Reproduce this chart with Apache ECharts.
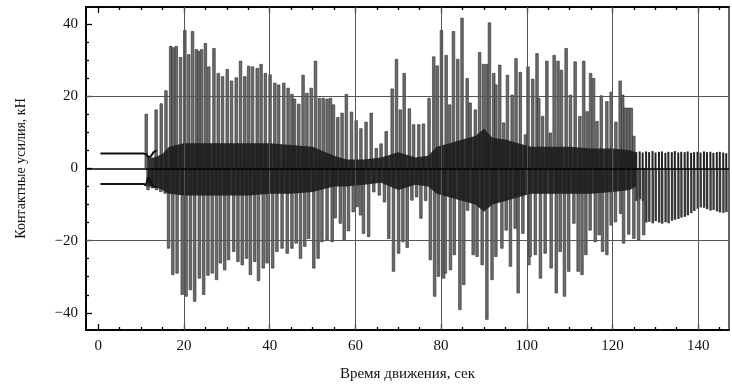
<!DOCTYPE html>
<html>
<head>
<meta charset="utf-8">
<script src="https://cdn.jsdelivr.net/npm/echarts@6/dist/echarts.min.js"></script>
<style>
  html, body { margin: 0; padding: 0; background: #fff; }
  #chart { width: 732px; height: 387px; }
</style>
</head>
<body>
<div id="chart"></div>
<script>
// значения пиков (время, сек / усилие, кН)
var posT = [11.1,13.4,14.6,15.7,16.8,17.4,18.1,19.1,20.1,21.0,21.9,22.8,23.4,24.0,24.9,25.7,26.9,27.9,28.9,30.0,
            31.0,32.1,33.1,34.1,35.0,35.9,37.0,37.9,38.9,40.0,41.1,42.0,43.2,44.2,45.1,45.7,46.7,47.7,48.6,49.6,
            50.6,51.5,52.4,53.3,54.1,54.8,55.8,56.8,57.8,59.0,60.1,61.2,62.4,63.6,64.8,65.9,67.1,68.5,69.5,70.4,
            71.3,72.5,73.5,74.7,75.8,77.1,78.2,79.0,80.0,81.1,81.9,82.8,83.8,84.8,86.0,86.7,87.9,88.9,89.8,90.6,
            91.2,92.2,92.7,93.6,94.5,95.4,96.5,97.4,98.4,99.6,100.2,101.3,102.3,102.7,103.6,104.6,105.4,106.3,107.2,108.0,
            109.1,110.1,111.2,112.3,113.2,114.0,114.8,115.5,116.3,117.3,118.6,119.6,120.7,121.7,122.3,122.9,123.6,124.3,124.9];
var posV = [15.1,16.3,18.0,21.6,33.9,33.5,33.9,30.8,38.3,31.6,38.0,33.0,32.5,33.0,34.7,28.2,33.3,26.4,25.5,27.5,
            24.3,25.2,29.8,25.5,28.4,28.2,27.8,28.9,26.4,26.0,23.7,23.2,23.7,22.3,20.6,19.3,17.9,25.9,20.9,22.3,
            29.8,19.5,19.5,19.3,19.5,17.7,14.2,15.4,20.6,15.7,13.3,11.1,12.9,15.4,5.6,6.9,10.3,22.1,30.3,16.3,
            26.4,16.6,12.2,12.2,12.4,19.5,31.0,28.5,38.3,31.4,17.7,38.0,30.3,41.7,25.0,18.2,16.3,32.2,28.9,28.9,
            40.4,26.4,23.2,28.7,12.7,25.9,20.4,30.5,26.7,9.4,28.2,24.8,31.9,19.5,14.5,29.8,9.9,31.4,29.8,27.3,
            33.3,20.4,29.6,14.5,29.8,15.8,26.4,25.0,13.1,20.2,18.6,21.2,12.9,24.3,20.4,16.8,16.8,16.8,9.0];

var negT = [11.5,12.5,13.5,14.5,15.5,16.3,17.3,18.3,19.5,20.4,21.4,22.4,23.5,24.5,25.5,26.5,27.5,28.4,29.4,30.3,
            31.5,32.5,33.5,34.5,35.4,36.4,37.3,38.4,39.3,40.6,41.6,42.8,44.0,45.1,46.1,47.1,48.1,49.0,50.2,51.2,
            52.1,53.3,54.5,55.2,56.4,57.3,58.3,59.4,60.3,61.1,61.8,63.0,64.2,65.5,66.7,67.7,68.8,70.0,71.0,72.0,
            73.1,74.2,75.2,76.3,77.4,78.4,79.3,80.5,80.9,82.1,83.0,84.3,85.2,86.1,87.4,88.3,89.5,90.6,91.8,92.7,
            94.1,95.1,96.1,97.2,97.9,99.0,100.4,100.7,101.9,103.1,104.2,105.6,106.8,107.7,108.7,109.7,110.9,111.9,112.8,113.7,
            114.7,115.9,116.8,117.6,118.6,119.6,120.6,121.8,122.5,123.7,124.9,126.0,127.2];
var negV = [-6.0,-5.5,-6.0,-6.5,-7.0,-22.2,-29.5,-29.1,-35.0,-35.5,-33.7,-36.9,-30.5,-35.0,-29.7,-29.1,-30.9,-26.3,-28.2,-25.4,
            -23.1,-25.9,-26.8,-25.0,-29.5,-25.9,-31.2,-27.7,-26.3,-27.7,-23.1,-22.2,-23.6,-22.2,-20.8,-25.0,-21.7,-19.5,-27.7,-25.0,
            -20.4,-19.9,-20.4,-13.8,-15.3,-19.9,-17.4,-12.1,-10.7,-13.0,-18.1,-19.0,-6.6,-7.5,-9.4,-19.5,-28.6,-23.6,-20.4,-22.0,
            -8.9,-8.0,-13.9,-9.0,-25.4,-35.5,-30.0,-30.5,-29.1,-28.2,-24.0,-39.2,-32.3,-11.7,-24.0,-24.5,-26.8,-41.9,-30.9,-24.5,
            -22.2,-17.2,-27.2,-16.7,-34.6,-18.1,-26.8,-24.5,-24.0,-30.5,-23.6,-27.7,-34.6,-23.1,-35.5,-28.6,-15.3,-28.6,-29.5,-24.0,
            -17.2,-20.4,-18.5,-23.1,-24.0,-15.8,-14.9,-12.6,-20.8,-18.3,-19.5,-19.9,-18.5];

// хвост после 125 с
var tailT  = [125.6,126.4,127.1,127.9,128.6,129.4,130.1,130.9,131.6,132.4,133.1,133.9,134.6,135.4,136.1,136.9,137.6,138.4,
              139.1,139.9,140.6,141.4,142.1,142.9,143.6,144.4,145.1,145.9,146.6];
var tailHi = [4.5,4.7,4.4,4.7,4.5,4.8,4.4,4.6,4.7,4.3,4.6,4.5,4.8,4.4,4.6,4.5,4.7,4.3,
              4.5,4.6,4.4,4.7,4.5,4.6,4.3,4.5,4.6,4.4,4.2];
var tailLo = [-9.0,-8.5,-9.0,-15.0,-14.8,-15.2,-14.6,-15.0,-15.3,-14.9,-15.2,-14.5,-14.2,-14.0,-13.6,-13.4,-13.0,-12.4,
              -11.8,-11.2,-10.8,-10.9,-11.3,-11.7,-11.5,-11.9,-12.2,-12.3,-12.1];

// тёмная полоса вокруг нуля
var bandT  = [11.5,13,15,16.5,20,25,30,35,40,45,50,55,58,62,66,70,74,77,79,82,85,88,90,92,95,98,101,105,110,115,120,124,125.5];
var bandHi = [3,3,4,6,7,7,7,7,7,6.5,6,3.5,2.5,2.5,3,4.5,3,3.5,6,7,8,9,11,8.5,8,7,6,6,6,5.5,5.5,5,4.5];
var bandLo = [-5,-5,-6,-7,-7.5,-7.5,-7.5,-7.5,-7,-7,-6.5,-5,-5,-4.5,-4,-6,-4.5,-5,-7,-8,-9,-10,-12,-10,-9,-8,-7,-7,-7,-7,-6.5,-6,-5];

// начальные ровные участки
var upT = [0.5,10.6,11.2,11.7,12.3,12.9,13.6];
var upV = [4.1,4.1,3.9,3.1,3.4,4.5,5.0];
var loT = [0.5,10.6,11.1,11.6,12.2,12.8,13.6];
var loV = [-4.3,-4.3,-4.7,-2.6,-3.5,-5.0,-5.2];

var xLabels = [0,20,40,60,80,100,120,140];
var xMinor = [5,10,15,25,30,35,45,50,55,65,70,75,85,90,95,105,110,115,125,130,135,145];
var yLabels = [-40,-20,0,20,40];
var yMinor = [-35,-30,-25,-15,-10,-5,5,10,15,25,30,35];
var xGrid = [20,40,60,80,100,120,140];
var yGrid = [-20,20];

function pairs(t, v) {
    var out = [];
    for (var i = 0; i < t.length; i++) out.push([t[i], v[i]]);
    return out;
}

var FONT = '"Liberation Serif", "DejaVu Serif", serif';
var XMIN = -2.87, XMAX = 147.2, YMIN = -44.75, YMAX = 44.7;

var chart = echarts.init(document.getElementById('chart'));

function xAx(pos, ticks, len, labels, extra) {
    var a = {
        type: 'value', min: XMIN, max: XMAX, position: pos,
        axisLine: { show: true, onZero: false, lineStyle: { color: '#000', width: 1.5 } },
        axisTick: { show: true, inside: true, length: len, customValues: ticks, lineStyle: { color: '#000', width: 1.3 } },
        axisLabel: { show: labels, customValues: ticks, fontFamily: FONT, fontSize: 15, color: '#111', margin: 9 },
        splitLine: { show: false }
    };
    return Object.assign(a, extra || {});
}
function yAx(pos, ticks, len, labels, extra) {
    var a = {
        type: 'value', min: YMIN, max: YMAX, position: pos,
        axisLine: { show: true, onZero: false, lineStyle: { color: '#000', width: 1.5 } },
        axisTick: { show: true, inside: true, length: len, customValues: ticks, lineStyle: { color: '#000', width: 1.3 } },
        axisLabel: { show: labels, customValues: ticks, fontFamily: FONT, fontSize: 15, color: '#111', margin: 8,
            formatter: function (v) { return v < 0 ? '\u2212' + Math.abs(v) : String(v); } },
        splitLine: { show: false }
    };
    return Object.assign(a, extra || {});
}

var gridLines = [];
xGrid.forEach(function (x) { gridLines.push({ xAxis: x }); });
yGrid.forEach(function (y) { gridLines.push({ yAxis: y }); });

var spikeStyle = { color: '#6c6c6c', borderColor: '#2a2a2a', borderWidth: 0.6 };

var option = {
    animation: false,
    backgroundColor: '#fff',
    grid: { left: 86, right: 3, top: 7, bottom: 55, show: true, borderColor: '#000', borderWidth: 1.2 },
    xAxis: [
        xAx('bottom', xLabels, 6, true, {
            name: 'Время движения, сек', nameLocation: 'middle', nameGap: 37,
            nameTextStyle: { fontFamily: FONT, fontSize: 15, color: '#111' }
        }),
        xAx('bottom', xMinor, 3, false),
        xAx('top', xLabels, 6, false),
        xAx('top', xMinor, 3, false)
    ],
    yAxis: [
        yAx('left', yLabels, 6, true, {
            name: 'Контактные усилия, кН', nameLocation: 'middle', nameGap: 58,
            nameTextStyle: { fontFamily: FONT, fontSize: 14, color: '#111' }
        }),
        yAx('left', yMinor, 3, false)
    ],
    series: [
        {
            type: 'bar', barWidth: 3.2, barGap: '-100%',
            itemStyle: spikeStyle,
            data: pairs(posT, posV)
        },
        {
            type: 'bar', barWidth: 3.2, barGap: '-100%',
            itemStyle: spikeStyle,
            data: pairs(negT, negV)
        },
        {
            type: 'bar', barWidth: 2, barGap: '-100%',
            itemStyle: { color: '#222' },
            data: pairs(tailT, tailHi)
        },
        {
            type: 'bar', barWidth: 2.4, barGap: '-100%',
            itemStyle: { color: '#3a3a3a' },
            data: pairs(tailT, tailLo)
        },
        {
            type: 'line', showSymbol: false, symbol: 'none',
            lineStyle: { width: 0 }, areaStyle: { color: '#1c1c1c', opacity: 0.9 },
            data: pairs(bandT, bandHi)
        },
        {
            type: 'line', showSymbol: false, symbol: 'none',
            lineStyle: { width: 0 }, areaStyle: { color: '#1c1c1c', opacity: 0.9 },
            data: pairs(bandT, bandLo)
        },
        {
            type: 'line', showSymbol: false, symbol: 'none',
            lineStyle: { color: '#111', width: 2 },
            data: pairs(upT, upV)
        },
        {
            type: 'line', showSymbol: false, symbol: 'none',
            lineStyle: { color: '#111', width: 2 },
            data: pairs(loT, loV),
            markLine: {
                silent: true, symbol: 'none', label: { show: false },
                lineStyle: { color: '#555', width: 1, type: 'solid' },
                data: gridLines.concat([{ yAxis: 0, lineStyle: { color: '#000', width: 1.6 } }])
            }
        }
    ]
};
chart.setOption(option);
</script>
</body>
</html>
